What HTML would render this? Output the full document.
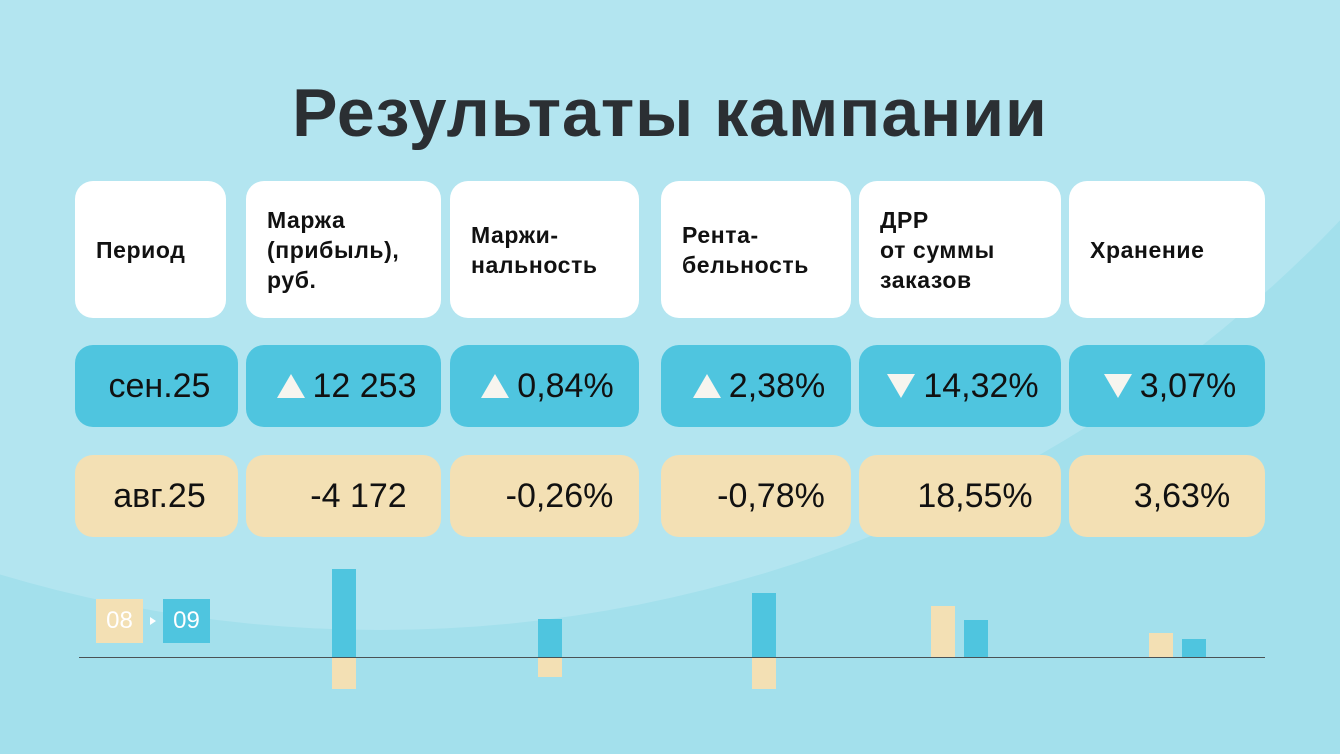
<!DOCTYPE html>
<html><head><meta charset="utf-8"><style>
*{margin:0;padding:0;box-sizing:border-box}
body{width:1340px;height:754px;overflow:hidden;position:relative;background:#a3e0ec;font-family:"Liberation Sans",sans-serif;color:#111}
.bg{position:absolute;left:-950px;top:-2030px;width:2660px;height:2660px;border-radius:50%;background:#b3e5f0}
h1{position:absolute;left:0;width:1340px;top:74px;text-align:center;font-size:68px;font-weight:bold;color:#2b2f33;letter-spacing:1px}
.c{position:absolute;border-radius:18px;display:flex;align-items:center}
.h{background:#fff;top:181px;height:137px;font-weight:bold;font-size:23px;line-height:30px;padding-left:21px;letter-spacing:0.6px}
.b{background:#4fc5df;top:345px;height:82px;font-size:34px;justify-content:center;padding-left:6px}
.y{background:#f3e0b4;top:455px;height:82px;font-size:34px;justify-content:center;padding-left:6px}
.up,.dn{display:inline-block;width:0;height:0;border-left:14px solid transparent;border-right:14px solid transparent;margin-right:8px}
.up{border-bottom:24px solid #f7f5ef}.dn{border-top:24px solid #f7f5ef}
.r{position:absolute}
</style></head><body>
<div class="bg"></div>
<h1>Результаты кампании</h1>
<div class="c h" style="left:75px;width:151px">Период</div>
<div class="c h" style="left:246px;width:195px">Маржа<br>(прибыль),<br>руб.</div>
<div class="c h" style="left:450px;width:189px">Маржи-<br>нальность</div>
<div class="c h" style="left:661px;width:190px">Рента-<br>бельность</div>
<div class="c h" style="left:859px;width:202px">ДРР<br>от суммы<br>заказов</div>
<div class="c h" style="left:1069px;width:196px">Хранение</div>

<div class="c b" style="left:75px;width:163px">сен.25</div>
<div class="c b" style="left:246px;width:195px"><span class="up"></span>12 253</div>
<div class="c b" style="left:450px;width:189px"><span class="up"></span>0,84%</div>
<div class="c b" style="left:661px;width:190px"><span class="up"></span>2,38%</div>
<div class="c b" style="left:859px;width:202px"><span class="dn"></span>14,32%</div>
<div class="c b" style="left:1069px;width:196px"><span class="dn"></span>3,07%</div>

<div class="c y" style="left:75px;width:163px">авг.25</div>
<div class="c y" style="left:246px;width:195px;padding-left:30px">-4 172</div>
<div class="c y" style="left:450px;width:189px;padding-left:30px">-0,26%</div>
<div class="c y" style="left:661px;width:190px;padding-left:30px">-0,78%</div>
<div class="c y" style="left:859px;width:202px;padding-left:30px">18,55%</div>
<div class="c y" style="left:1069px;width:196px;padding-left:30px">3,63%</div>

<div class="r" style="left:96px;top:599px;width:47px;height:44px;background:#f3e0b4;color:#fff;font-size:24px;text-align:center;line-height:44px">08</div>
<div class="r" style="left:150px;top:617px;width:0;height:0;border-top:4px solid transparent;border-bottom:4px solid transparent;border-left:6px solid #fff"></div>
<div class="r" style="left:163px;top:599px;width:47px;height:44px;background:#4fc5df;color:#fff;font-size:24px;text-align:center;line-height:44px">09</div>

<div class="r" style="left:332px;top:569px;width:24px;height:89px;background:#4fc5df"></div>
<div class="r" style="left:332px;top:658px;width:24px;height:31px;background:#f3e0b4"></div>
<div class="r" style="left:538px;top:619px;width:24px;height:39px;background:#4fc5df"></div>
<div class="r" style="left:538px;top:658px;width:24px;height:19px;background:#f3e0b4"></div>
<div class="r" style="left:752px;top:593px;width:24px;height:65px;background:#4fc5df"></div>
<div class="r" style="left:752px;top:658px;width:24px;height:31px;background:#f3e0b4"></div>
<div class="r" style="left:931px;top:606px;width:24px;height:52px;background:#f3e0b4"></div>
<div class="r" style="left:964px;top:620px;width:24px;height:38px;background:#4fc5df"></div>
<div class="r" style="left:1149px;top:633px;width:24px;height:25px;background:#f3e0b4"></div>
<div class="r" style="left:1182px;top:639px;width:24px;height:19px;background:#4fc5df"></div>
<div class="r" style="left:79px;top:657px;width:1186px;height:1px;background:#4a5255"></div>
</body></html>
